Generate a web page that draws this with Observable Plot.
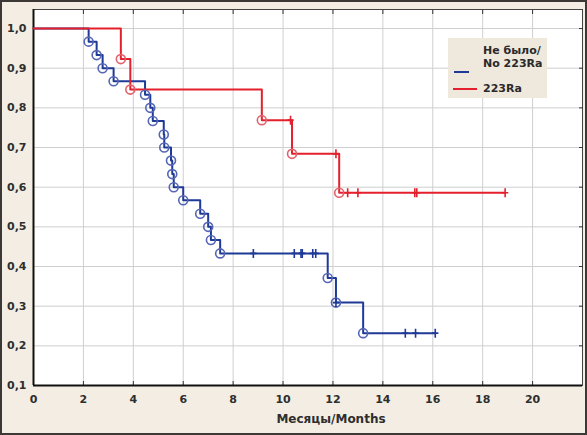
<!DOCTYPE html>
<html><head><meta charset="utf-8">
<script src="https://cdn.jsdelivr.net/npm/d3@7"></script>
<script src="https://cdn.jsdelivr.net/npm/@observablehq/plot@0.6"></script>
<style>
body{margin:0;background:#f3ede3;}
#wrap{position:relative;width:587px;height:435px;}
#wrap svg{display:block;outline:2px solid #3b3835;outline-offset:-2px;}
.legend{position:absolute;left:448px;top:38px;width:99px;height:60px;background:#efe8dc;font:bold 11px "DejaVu Sans",sans-serif;color:#2a2a2a;}
.legend .t{position:absolute;left:35px;white-space:nowrap;line-height:13px;}
.legend .ln{position:absolute;height:2px;}
</style></head><body><div id="wrap"></div>
<script>
// ---- data ----
const xTicks = [0, 2, 4, 6, 8, 10, 12, 14, 16, 18, 20];
const yTicks = [0.1, 0.2, 0.3, 0.4, 0.5, 0.6, 0.7, 0.8, 0.9, 1.0];
const seriesNames = ["Не было/ No 223Ra", "223Ra"];
const seriesColors = ["#1e3a96", "#e4202c"];
const circleColors = ["#5566b4", "#e2636d"];

// group "Не было/No 223Ra": event times and survival after each event
const noRaEventT = [2.21, 2.53, 2.77, 3.21, 4.47, 4.68, 4.78, 5.22, 5.24, 5.51, 5.56, 5.62, 6.00, 6.68, 7.00, 7.11, 7.48, 11.79, 12.12, 13.21];
const noRaEventS = [0.967, 0.933, 0.900, 0.867, 0.833, 0.800, 0.767, 0.733, 0.700, 0.667, 0.633, 0.600, 0.567, 0.533, 0.500, 0.467, 0.433, 0.371, 0.309, 0.232];
const noRaCensorT = [8.81, 10.45, 10.72, 10.77, 11.19, 11.31, 12.12, 14.90, 15.31, 16.10];

// group "223Ra"
const raEventT = [3.50, 3.88, 9.15, 10.36, 12.25];
const raEventS = [0.923, 0.846, 0.769, 0.684, 0.586];
const raCensorT = [10.30, 12.12, 12.59, 13.00, 15.28, 15.36, 18.90];

// ---- build tables ----
const groups = [
  {name: seriesNames[0], T: noRaEventT, S: noRaEventS, C: noRaCensorT},
  {name: seriesNames[1], T: raEventT, S: raEventS, C: raCensorT}
];
const stepAt = (g, t) => { let s = 1; g.T.forEach((et, i) => { if (et <= t) s = g.S[i]; }); return s; };
const lines = [], events = [], censors = [];
groups.forEach((g, gi) => {
  const end = Math.max(d3.max(g.C), d3.max(g.T));
  lines.push({t: 0, s: 1, g: gi});
  g.T.forEach((t, i) => { lines.push({t, s: g.S[i], g: gi}); events.push({t, s: g.S[i], g: gi}); });
  lines.push({t: end, s: stepAt(g, end), g: gi});
  g.C.forEach(t => censors.push({t, s: stepAt(g, t), g: gi}));
});

const censorSymbol = {draw(ctx, size) {
  const r = Math.sqrt(size / Math.PI);
  ctx.moveTo(0, -r); ctx.lineTo(0, r);
  ctx.moveTo(-r * 0.7, 0); ctx.lineTo(r * 0.7, 0);
}};
const fmtY = d => d.toFixed(1).replace(".", ",");

const plot = Plot.plot({
  width: 587, height: 435,
  marginLeft: 33, marginRight: 5, marginTop: 9, marginBottom: 50,
  style: {background: "#f3ede3", fontFamily: "DejaVu Sans, sans-serif", fontSize: "11px", fontWeight: "bold", color: "#2e2e2e"},
  x: {domain: [0, 22]},
  y: {domain: [0.1, 1.048]},
  marks: [
    Plot.frame({fill: "white", stroke: "none"}),
    Plot.gridX(xTicks.slice(1), {stroke: "#cfcfcf", strokeOpacity: 1}),
    Plot.gridY(yTicks.slice(1), {stroke: "#cfcfcf", strokeOpacity: 1}),
    Plot.frame({stroke: "#444", strokeWidth: 1}),
    Plot.axisX(xTicks, {anchor: "bottom", tickSize: 0, tickPadding: 10, label: null}),
    Plot.axisY(yTicks, {anchor: "left", tickSize: 0, tickPadding: 7, tickFormat: fmtY, label: null}),
    Plot.axisX(xTicks.slice(1), {anchor: "top", tickSize: -4, tickFormat: () => "", label: null, stroke: "#333"}),
    Plot.axisX(xTicks.slice(1), {anchor: "bottom", tickSize: -4, tickFormat: () => "", label: null, stroke: "#333"}),
    Plot.axisY(yTicks.slice(1), {anchor: "right", tickSize: -4, tickFormat: () => "", label: null, stroke: "#333"}),
    Plot.ruleX([0], {stroke: "#111", strokeWidth: 2}),
    Plot.ruleY([0.1], {stroke: "#111", strokeWidth: 2}),
    Plot.text(["Месяцы/Months"], {frameAnchor: "bottom", dx: 23, dy: 37, fontSize: 12, fontWeight: "bold", fill: "#2e2e2e"}),
    Plot.line(lines, {x: "t", y: "s", z: "g", curve: "step-after", stroke: d => seriesColors[d.g], strokeWidth: 2}),
    Plot.dot(events, {x: "t", y: "s", r: 4.5, stroke: d => circleColors[d.g], strokeWidth: 1.6, fill: "none"}),
    Plot.dot(censors, {x: "t", y: "s", r: 4.5, symbol: censorSymbol, stroke: d => seriesColors[d.g], strokeWidth: 1.6})
  ]
});
const wrap = document.getElementById("wrap");
wrap.appendChild(plot);

const leg = document.createElement("div");
leg.className = "legend";
leg.innerHTML = `
  <div class="t" style="top:6px">Не было/<br>No 223Ra</div>
  <div class="ln" style="left:6px;top:33px;width:15px;background:${seriesColors[0]}"></div>
  <div class="ln" style="left:5px;top:50px;width:24px;background:${seriesColors[1]}"></div>
  <div class="t" style="top:44px">${seriesNames[1]}</div>`;
wrap.appendChild(leg);
</script></body></html>
